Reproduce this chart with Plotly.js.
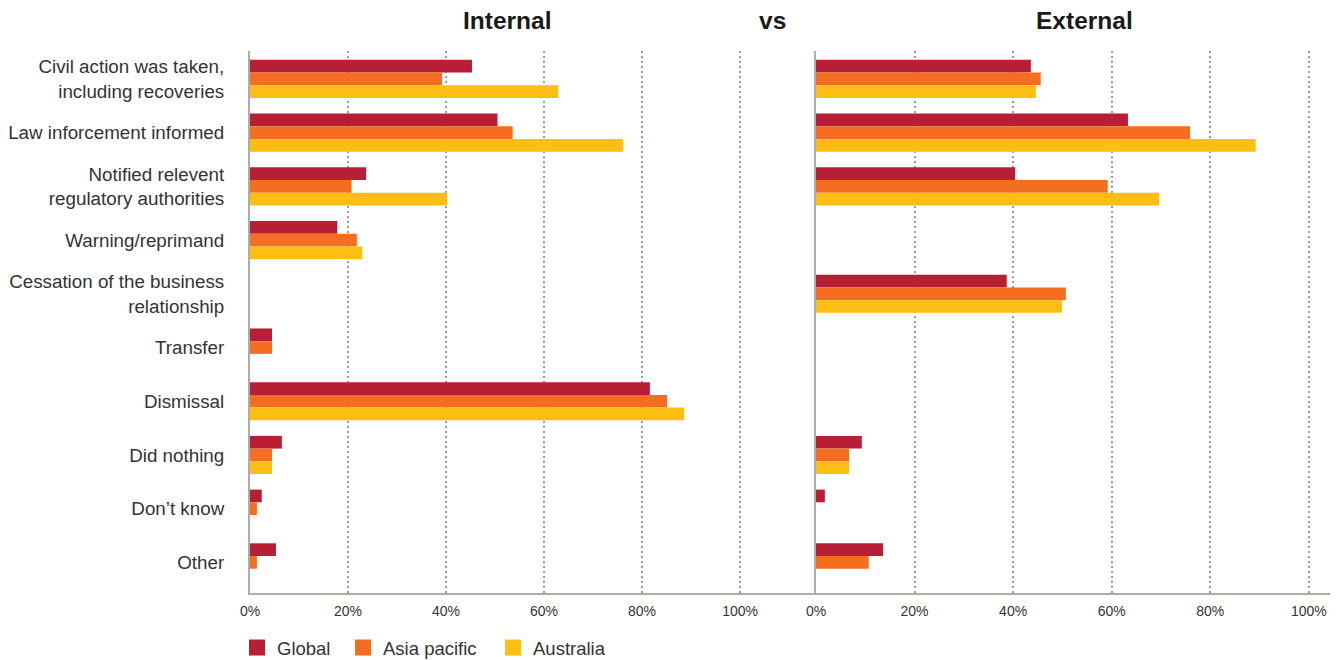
<!DOCTYPE html>
<html>
<head>
<meta charset="utf-8">
<script src="https://cdn.plot.ly/plotly-3.0.1.min.js"></script>
<style>
  html, body { margin: 0; padding: 0; background: #ffffff; }
  #chart { width: 1344px; height: 660px; }
</style>
</head>
<body>
<div id="chart"></div>
<script>
// Response categories (top to bottom)
const categories = [
  "Civil action was taken,<br>including recoveries",
  "Law inforcement informed",
  "Notified relevent<br>regulatory authorities",
  "Warning/reprimand",
  "Cessation of the business<br>relationship",
  "Transfer",
  "Dismissal",
  "Did nothing",
  "Don\u2019t know",
  "Other"
];

// Internal perpetrators (% of respondents)
const internalGlobal    = [45.3, 50.5, 23.7, 17.8, null, 4.5, 81.6, 6.5, 2.4, 5.3];
const internalAsia      = [39.2, 53.6, 20.7, 21.8, null, 4.5, 85.1, 4.5, 1.4, 1.4];
const internalAustralia = [62.9, 76.1, 40.2, 22.9, null, null, 88.6, 4.5, null, null];

// External perpetrators (% of respondents)
const externalGlobal    = [43.6, 63.3, 40.4, null, 38.7, null, null, 9.3, 1.8, 13.6];
const externalAsia      = [45.6, 75.9, 59.2, null, 50.7, null, null, 6.7, null, 10.7];
const externalAustralia = [44.6, 89.2, 69.6, null, 49.9, null, null, 6.7, null, null];

const seriesNames = ["Global", "Asia pacific", "Australia"];
const seriesColors = ["#b81f34", "#f36e21", "#fcbe12"];

const tickValues = [0, 20, 40, 60, 80, 100];
const tickLabels = ["0%", "20%", "40%", "60%", "80%", "100%"];

const FONT = '"Liberation Sans", Arial, Helvetica, sans-serif';
const AXIS_COLOR = '#b3aba3';
const GRID_COLOR = '#a39a91';
const TEXT_COLOR = '#333333';

const plotW = 1080;   // plot area width in px
const plotH = 542;    // plot area height in px
const splitPx = 566;  // width of the internal panel in px

function barTrace(values, i, xa, ya, legend) {
  const t = {
    type: 'bar',
    orientation: 'h',
    name: seriesNames[i],
    x: values,
    y: categories,
    xaxis: xa,
    yaxis: ya,
    marker: { color: seriesColors[i], line: { width: 0 } },
    showlegend: legend,
    hoverinfo: 'x+name'
  };
  if (legend) t.legend = i === 0 ? 'legend' : 'legend' + (i + 1);
  return t;
}

const data = [
  barTrace(internalGlobal, 0, 'x', 'y', true),
  barTrace(internalAsia, 1, 'x', 'y', true),
  barTrace(internalAustralia, 2, 'x', 'y', true),
  barTrace(externalGlobal, 0, 'x2', 'y2', false),
  barTrace(externalAsia, 1, 'x2', 'y2', false),
  barTrace(externalAustralia, 2, 'x2', 'y2', false)
];

const xCommon = {
  tickvals: tickValues,
  ticktext: tickLabels,
  showgrid: true,
  gridcolor: GRID_COLOR,
  gridwidth: 2,
  griddash: '2px,3px',
  zeroline: false,
  showline: true,
  linecolor: AXIS_COLOR,
  linewidth: 2,
  ticks: '',
  ticklabelstandoff: 4,
  tickfont: { family: FONT, size: 14, color: TEXT_COLOR },
  fixedrange: true,
  automargin: false
};

const yCommon = {
  type: 'category',
  range: [9.57, -0.52],
  showgrid: false,
  zeroline: false,
  showline: true,
  linecolor: AXIS_COLOR,
  linewidth: 2,
  ticks: '',
  fixedrange: true,
  automargin: false
};

// one legend per series so each swatch sits at its own spot
function legendAt(px) {
  return {
    orientation: 'h',
    x: (px - 250) / plotW,
    xanchor: 'left',
    y: -(648 - 593) / plotH,
    yanchor: 'middle',
    font: { family: FONT, size: 18.5, color: TEXT_COLOR },
    bgcolor: 'rgba(0,0,0,0)'
  };
}

const titleY = (593 - 20) / plotH;

const layout = {
  width: 1344,
  height: 660,
  paper_bgcolor: '#ffffff',
  plot_bgcolor: 'rgba(0,0,0,0)',
  margin: { l: 250, r: 14, t: 51, b: 67, pad: 0, autoexpand: false },
  barmode: 'group',
  bargap: 0.29,
  bargroupgap: 0,
  font: { family: FONT, color: TEXT_COLOR },
  xaxis: Object.assign({}, xCommon, {
    domain: [0, splitPx / plotW],
    range: [0, 115.5],
    anchor: 'y'
  }),
  xaxis2: Object.assign({}, xCommon, {
    domain: [splitPx / plotW, 1],
    range: [0, 104.3],
    anchor: 'y2'
  }),
  yaxis: Object.assign({}, yCommon, {
    anchor: 'x',
    showticklabels: true,
    ticklabelstandoff: 20,
    tickfont: { family: FONT, size: 18.8, color: TEXT_COLOR }
  }),
  yaxis2: Object.assign({}, yCommon, {
    anchor: 'x2',
    showticklabels: false
  }),
  legend: legendAt(237),
  legend2: legendAt(343),
  legend3: legendAt(493),
  annotations: [
    { text: '<b>Internal</b>', x: (507 - 250) / plotW },
    { text: '<b>vs</b>', x: (772 - 250) / plotW },
    { text: '<b>External</b>', x: (1084 - 250) / plotW }
  ].map(a => Object.assign(a, {
    y: titleY,
    xref: 'paper', yref: 'paper',
    xanchor: 'center', yanchor: 'middle',
    showarrow: false,
    font: { family: FONT, size: 24.5, color: '#1a1a1a' }
  }))
};

Plotly.newPlot('chart', data, layout, { displayModeBar: false, staticPlot: true })
  .then(gd => {
    // slightly larger square legend swatches
    gd.querySelectorAll('.legendpoints path').forEach(p => {
      p.setAttribute('d', 'M8,8H-8V-8H8Z');
    });
  });
</script>
</body>
</html>
